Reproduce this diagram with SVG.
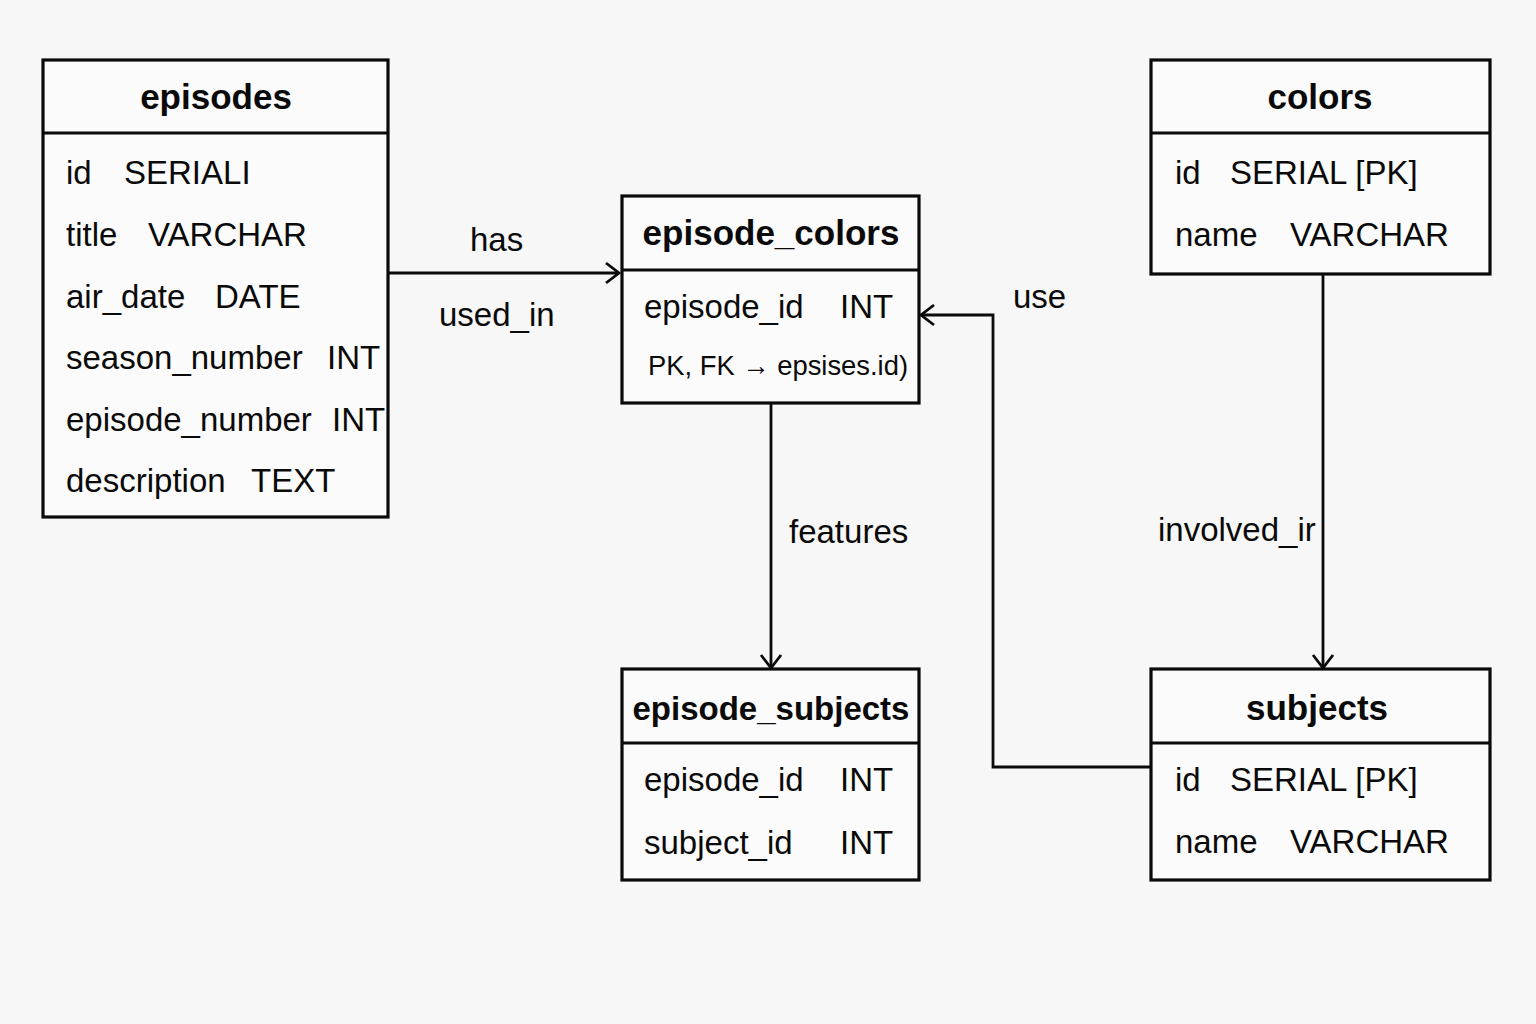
<svg xmlns="http://www.w3.org/2000/svg" width="1536" height="1024" viewBox="0 0 1536 1024">
<defs>
<marker id="arr" markerUnits="userSpaceOnUse" markerWidth="30" markerHeight="30" viewBox="-20 -15 30 30" refX="0" refY="0" orient="auto">
<path d="M -13 -10 L 0 0 L -13 10" fill="none" stroke="#0a0a0a" stroke-width="2.8"/>
</marker>
<style>
.box{fill:#fbfbfb;stroke:#0a0a0a;stroke-width:3.2}
.sep{stroke:#0a0a0a;stroke-width:3.2}
.title{font-family:"Liberation Sans",Arial,sans-serif;font-weight:bold;font-size:35px;fill:#0a0a0a;text-anchor:middle}
.row{font-family:"Liberation Sans",Arial,sans-serif;font-size:33px;fill:#0a0a0a}
.small{font-family:"Liberation Sans",Arial,sans-serif;font-size:28px;fill:#0a0a0a}
.lbl{font-family:"Liberation Sans",Arial,sans-serif;font-size:33px;fill:#0a0a0a}
.conn{fill:none;stroke:#0a0a0a;stroke-width:2.8}
</style>
</defs>
<rect width="1536" height="1024" fill="#f7f7f7"/>
<g id="connectors">
<path class="conn" d="M 388 273 L 619 273" marker-end="url(#arr)"/>
<path class="conn" d="M 771 403 L 771 668" marker-end="url(#arr)"/>
<path class="conn" d="M 1323 274 L 1323 668" marker-end="url(#arr)"/>
<path class="conn" d="M 1151 767 L 993 767 L 993 315 L 921 315" marker-end="url(#arr)"/>
<text class="lbl" x="470" y="251">has</text>
<text class="lbl" x="439" y="326">used_in</text>
<text class="lbl" x="789" y="543">features</text>
<text class="lbl" x="1158" y="541">involved_ir</text>
<text class="lbl" x="1013" y="308">use</text>
</g>
<g id="episodes">
<rect class="box" x="43" y="60" width="345" height="457"/>
<line class="sep" x1="43" y1="133" x2="388" y2="133"/>
<text class="title" x="216" y="109">episodes</text>
<text class="row" y="184"><tspan x="66">id</tspan><tspan x="124">SERIALI</tspan></text>
<text class="row" y="246"><tspan x="66">title</tspan><tspan x="148">VARCHAR</tspan></text>
<text class="row" y="308"><tspan x="66">air_date</tspan><tspan x="215">DATE</tspan></text>
<text class="row" y="369"><tspan x="66">season_number</tspan><tspan x="327">INT</tspan></text>
<text class="row" y="431"><tspan x="66">episode_number</tspan><tspan x="332">INT</tspan></text>
<text class="row" y="492"><tspan x="66">description</tspan><tspan x="251">TEXT</tspan></text>
</g>
<g id="episode_colors">
<rect class="box" x="622" y="196" width="297" height="207"/>
<line class="sep" x1="622" y1="270" x2="919" y2="270"/>
<text class="title" x="771" y="245">episode_colors</text>
<text class="row" y="318"><tspan x="644">episode_id</tspan><tspan x="840">INT</tspan></text>
<text class="small" x="648" y="375" textLength="260" lengthAdjust="spacingAndGlyphs">PK, FK → epsises.id)</text>
</g>
<g id="colors">
<rect class="box" x="1151" y="60" width="339" height="214"/>
<line class="sep" x1="1151" y1="133" x2="1490" y2="133"/>
<text class="title" x="1320" y="109">colors</text>
<text class="row" y="184"><tspan x="1175">id</tspan><tspan x="1230">SERIAL [PK]</tspan></text>
<text class="row" y="246"><tspan x="1175">name</tspan><tspan x="1290">VARCHAR</tspan></text>
</g>
<g id="episode_subjects">
<rect class="box" x="622" y="669" width="297" height="211"/>
<line class="sep" x1="622" y1="743" x2="919" y2="743"/>
<text class="title" x="771" y="720" style="font-size:33px">episode_subjects</text>
<text class="row" y="791"><tspan x="644">episode_id</tspan><tspan x="840">INT</tspan></text>
<text class="row" y="854"><tspan x="644">subject_id</tspan><tspan x="840">INT</tspan></text>
</g>
<g id="subjects">
<rect class="box" x="1151" y="669" width="339" height="211"/>
<line class="sep" x1="1151" y1="743" x2="1490" y2="743"/>
<text class="title" x="1317" y="720">subjects</text>
<text class="row" y="791"><tspan x="1175">id</tspan><tspan x="1230">SERIAL [PK]</tspan></text>
<text class="row" y="853"><tspan x="1175">name</tspan><tspan x="1290">VARCHAR</tspan></text>
</g>
</svg>
